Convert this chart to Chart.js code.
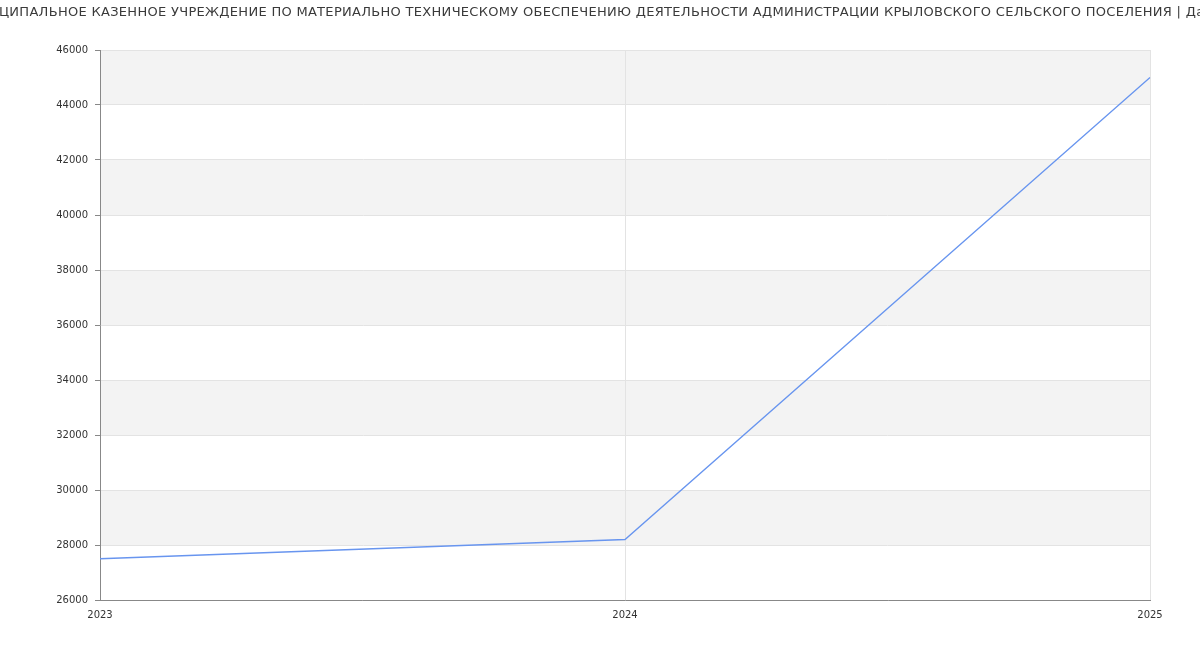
<!DOCTYPE html>
<html>
<head>
<meta charset="utf-8">
<script src="https://cdn.jsdelivr.net/npm/chart.js@4"></script>
<style>
    html, body { margin: 0; padding: 0; background: #fff; }
    #wrap { width: 1200px; height: 650px; }
</style>
</head>
<body>
<div id="wrap"><canvas id="grafico" width="1200" height="650"></canvas></div>
<script>
// данные графика
const titulo = 'МУНИЦИПАЛЬНОЕ КАЗЕННОЕ УЧРЕЖДЕНИЕ ПО МАТЕРИАЛЬНО ТЕХНИЧЕСКОМУ ОБЕСПЕЧЕНИЮ ДЕЯТЕЛЬНОСТИ АДМИНИСТРАЦИИ КРЫЛОВСКОГО СЕЛЬСКОГО ПОСЕЛЕНИЯ | Данные'
const anos = ['2023', '2024', '2025']
const valores = [27500, 28200, 45000]
const yMin = 26000
const yMax = 46000
const yPasso = 2000

// título desenhado à mão para não ser comprimido pelo maxWidth do Chart.js
const pluginTitulo = {
    id: 'titulo',
    afterDraw(chart) {
        const ctx = chart.ctx
        ctx.save()
        ctx.font = '13px "DejaVu Sans"'
        ctx.letterSpacing = '0.3px'
        ctx.fillStyle = '#3a3a3a'
        ctx.textAlign = 'center'
        ctx.textBaseline = 'middle'
        ctx.fillText(titulo, chart.width / 2, 12.5)
        ctx.restore()
    }
}

// faixas cinzas alternadas (antes da grade)
const pluginFaixas = {
    id: 'faixas',
    beforeDraw(chart) {
        const { ctx, chartArea, scales } = chart
        const y = scales.y
        ctx.save()
        ctx.fillStyle = '#f3f3f3'
        for (let v = yMin; v < yMax; v += yPasso) {
            if (((v - yMin) / yPasso) % 2 === 1) {
                const top = y.getPixelForValue(v + yPasso)
                const bot = y.getPixelForValue(v)
                ctx.fillRect(chartArea.left, top, chartArea.right - chartArea.left, bot - top)
            }
        }
        ctx.restore()
    }
}

const ctx = document.getElementById('grafico').getContext('2d')
new Chart(ctx, {
    type: 'line',
    data: {
        labels: anos,
        datasets: [{
            data: valores,
            borderColor: '#6895ef',
            borderWidth: 1.3,
            pointRadius: 0,
            tension: 0,
            fill: false,
        }]
    },
    options: {
        responsive: false,
        animation: false,
        layout: { padding: { top: 50, right: 50, left: 0, bottom: 0 } },
        plugins: { legend: { display: false }, tooltip: { enabled: false } },
        scales: {
            x: {
                offset: false,
                grid: { color: '#e3e3e3', drawTicks: false },
                border: { color: '#888', width: 1 },
                ticks: { color: '#333', font: { family: 'DejaVu Sans', size: 10 }, padding: 9, maxRotation: 0 },
                afterFit: s => { s.height = 50 }
            },
            y: {
                min: yMin,
                max: yMax,
                grid: { color: '#e3e3e3', tickColor: '#888', tickLength: 5 },
                border: { color: '#888', width: 1 },
                ticks: {
                    stepSize: yPasso, color: '#333', font: { family: 'DejaVu Sans', size: 10 }, padding: 7,
                    callback: v => String(v)
                },
                afterFit: s => { s.width = 100 }
            }
        }
    },
    plugins: [pluginFaixas, pluginTitulo]
})
</script>
</body>
</html>
